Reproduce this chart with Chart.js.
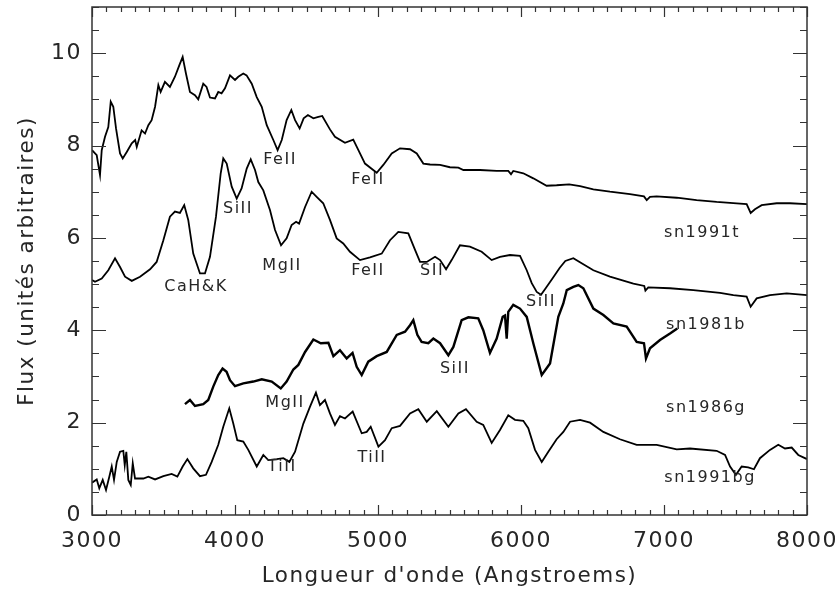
<!DOCTYPE html>
<html><head><meta charset="utf-8">
<script src="https://cdn.jsdelivr.net/npm/chart.js@4.4.0/dist/chart.umd.min.js"></script>
<style>html,body{margin:0;padding:0;background:#fff;overflow:hidden}</style>
</head><body>
<canvas id="c" width="839" height="590"></canvas>
<script>
// ---- data (wavelength in Angstrom, flux in arbitrary units) ----
const sn1991t = [[3000,7.90],[3033,7.79],[3056,7.36],[3068,7.90],[3091,8.19],[3114,8.40],[3131,8.95],[3149,8.84],[3168,8.37],[3196,7.83],[3215,7.72],[3243,7.86],[3278,8.05],[3302,8.12],[3313,7.97],[3347,8.33],[3371,8.26],[3394,8.44],[3417,8.55],[3441,8.84],[3464,9.31],[3480,9.16],[3510,9.38],[3545,9.27],[3580,9.49],[3611,9.74],[3634,9.92],[3657,9.56],[3685,9.16],[3720,9.09],[3743,9.00],[3778,9.34],[3801,9.27],[3825,9.04],[3860,9.02],[3883,9.16],[3906,9.13],[3930,9.24],[3965,9.52],[4000,9.42],[4023,9.49],[4058,9.56],[4081,9.52],[4117,9.34],[4152,9.05],[4187,8.84],[4222,8.44],[4268,8.12],[4298,7.90],[4327,8.12],[4361,8.55],[4394,8.77],[4420,8.55],[4452,8.37],[4480,8.59],[4510,8.66],[4548,8.59],[4583,8.62],[4610,8.64],[4664,8.35],[4699,8.19],[4769,8.06],[4827,8.13],[4874,7.83],[4909,7.61],[4991,7.41],[5037,7.58],[5096,7.83],[5154,7.94],[5224,7.92],[5271,7.83],[5317,7.61],[5364,7.59],[5434,7.58],[5503,7.53],[5562,7.52],[5597,7.47],[5713,7.47],[5830,7.45],[5911,7.45],[5930,7.38],[5946,7.45],[6016,7.40],[6086,7.29],[6179,7.13],[6249,7.14],[6337,7.16],[6413,7.12],[6506,7.05],[6622,7.00],[6762,6.95],[6860,6.90],[6879,6.82],[6902,6.89],[6948,6.90],[7089,6.87],[7228,6.82],[7368,6.78],[7508,6.75],[7578,6.73],[7606,6.54],[7636,6.62],[7683,6.71],[7788,6.75],[7881,6.75],[8000,6.73]];

const sn1981b = [[3000,5.09],[3021,5.05],[3068,5.12],[3114,5.30],[3161,5.56],[3196,5.37],[3231,5.16],[3278,5.07],[3336,5.16],[3406,5.32],[3452,5.48],[3499,5.95],[3545,6.46],[3580,6.57],[3615,6.54],[3645,6.71],[3673,6.39],[3708,5.66],[3755,5.23],[3790,5.23],[3825,5.59],[3867,6.46],[3900,7.40],[3918,7.72],[3942,7.61],[3977,7.11],[4012,6.85],[4046,7.07],[4082,7.50],[4110,7.70],[4140,7.47],[4163,7.21],[4198,7.03],[4245,6.60],[4280,6.17],[4322,5.84],[4361,5.99],[4396,6.28],[4427,6.35],[4448,6.31],[4490,6.67],[4536,7.00],[4571,6.89],[4617,6.75],[4664,6.39],[4711,5.99],[4757,5.88],[4804,5.70],[4874,5.52],[4944,5.58],[5026,5.66],[5084,5.95],[5142,6.13],[5212,6.10],[5259,5.74],[5294,5.48],[5341,5.48],[5399,5.59],[5434,5.52],[5476,5.32],[5515,5.52],[5573,5.84],[5643,5.81],[5725,5.70],[5795,5.52],[5853,5.59],[5923,5.63],[5993,5.61],[6040,5.30],[6075,5.02],[6110,4.83],[6140,4.77],[6175,4.92],[6220,5.12],[6270,5.35],[6310,5.50],[6366,5.56],[6430,5.44],[6506,5.30],[6622,5.16],[6786,5.01],[6862,4.96],[6870,4.86],[6890,4.93],[7042,4.91],[7205,4.87],[7392,4.81],[7485,4.76],[7578,4.73],[7606,4.51],[7648,4.69],[7741,4.76],[7858,4.80],[8000,4.76]];

const sn1986g = [[3650,2.40],[3685,2.49],[3720,2.36],[3778,2.40],[3813,2.49],[3848,2.78],[3883,3.03],[3913,3.17],[3941,3.10],[3965,2.92],[4000,2.79],[4058,2.85],[4128,2.89],[4187,2.94],[4257,2.89],[4320,2.74],[4361,2.89],[4408,3.15],[4443,3.25],[4490,3.53],[4548,3.80],[4600,3.72],[4653,3.73],[4688,3.44],[4734,3.57],[4781,3.39],[4822,3.51],[4851,3.21],[4886,3.03],[4932,3.32],[4991,3.44],[5061,3.53],[5131,3.90],[5189,3.97],[5224,4.11],[5247,4.22],[5275,3.90],[5305,3.75],[5352,3.72],[5387,3.82],[5434,3.72],[5492,3.46],[5527,3.64],[5585,4.22],[5632,4.28],[5701,4.26],[5736,4.00],[5783,3.51],[5830,3.82],[5872,4.29],[5888,4.32],[5900,3.82],[5911,4.40],[5946,4.55],[5993,4.47],[6040,4.29],[6086,3.72],[6145,3.03],[6203,3.28],[6261,4.29],[6296,4.58],[6320,4.87],[6366,4.94],[6401,4.98],[6436,4.91],[6506,4.47],[6576,4.33],[6646,4.15],[6739,4.08],[6809,3.75],[6860,3.72],[6874,3.39],[6902,3.61],[6972,3.79],[7042,3.93],[7093,4.04]];

const sn1991bg = [[3000,0.70],[3033,0.77],[3051,0.58],[3075,0.76],[3098,0.54],[3121,0.83],[3138,1.05],[3154,0.76],[3173,1.15],[3196,1.37],[3219,1.39],[3229,1.08],[3240,1.37],[3254,0.76],[3271,0.65],[3285,1.12],[3301,0.79],[3359,0.79],[3394,0.83],[3441,0.77],[3499,0.84],[3557,0.89],[3597,0.83],[3634,1.05],[3667,1.21],[3708,1.01],[3755,0.84],[3797,0.87],[3837,1.15],[3883,1.52],[3918,1.91],[3960,2.31],[3988,1.98],[4016,1.62],[4058,1.59],[4093,1.41],[4152,1.05],[4198,1.30],[4233,1.19],[4292,1.21],[4338,1.23],[4380,1.15],[4420,1.37],[4478,1.98],[4524,2.34],[4566,2.65],[4594,2.38],[4629,2.49],[4664,2.20],[4699,1.95],[4734,2.14],[4769,2.09],[4823,2.24],[4886,1.77],[4921,1.80],[4949,1.91],[5003,1.48],[5049,1.62],[5096,1.88],[5154,1.93],[5224,2.20],[5282,2.29],[5341,2.02],[5411,2.25],[5492,1.91],[5562,2.20],[5615,2.29],[5690,2.02],[5736,1.95],[5795,1.56],[5853,1.84],[5911,2.16],[5958,2.06],[6016,2.04],[6051,1.88],[6098,1.41],[6145,1.15],[6191,1.37],[6249,1.64],[6296,1.80],[6343,2.02],[6413,2.06],[6483,2.00],[6576,1.80],[6692,1.64],[6809,1.52],[6949,1.52],[7089,1.42],[7182,1.44],[7368,1.39],[7427,1.30],[7462,1.05],[7503,0.87],[7543,1.05],[7589,1.03],[7629,0.99],[7671,1.23],[7741,1.41],[7799,1.52],[7846,1.44],[7893,1.46],[7939,1.30],[8000,1.21]];

const xTickValues = [3000,4000,5000,6000,7000,8000];
const yTickValues = [0,2,4,6,8,10];
const xMinorStep = 100;
const yMinorStep = 0.5;

const lineLabels = [
  ['FeII',4315,7.68],['FeII',4930,7.25],['SiII',4021,6.62],['MgII',4329,5.39],
  ['FeII',4930,5.28],['SII',5378,5.28],['CaH&K',3727,4.94],['SiII',6140,4.61],
  ['SiII',5538,3.16],['MgII',4350,2.42],['TiII',4329,1.04],['TiII',4958,1.23]
];
const seriesLabels = [
  ['sn1991t',7266,6.10],['sn1981b',7294,4.11],['sn1986g',7294,2.32],['sn1991bg',7322,0.80]
];

const toXY = a => a.map(p => ({x:p[0], y:p[1]}));
const FONT = "'DejaVu Sans', sans-serif";
const TXT = '#262626';

const spacing = {
  id:'spacing',
  beforeLayout(c){ c.ctx.letterSpacing = '1.5px'; },
  beforeDraw(c){ c.ctx.letterSpacing = '1.5px'; }
};

const frameTicks = {
  id:'frameTicks',
  afterDatasetsDraw(chart){
    const {ctx, chartArea:a, scales:{x, y}} = chart;
    ctx.save();
    ctx.strokeStyle = '#333';
    ctx.lineWidth = 1.5;
    ctx.strokeRect(a.left, a.top, a.right - a.left, a.bottom - a.top);
    ctx.lineWidth = 1.2;
    ctx.beginPath();
    for (let v = x.min; v <= x.max + 1e-6; v += xMinorStep) {
      const px = Math.round(x.getPixelForValue(v)) + 0.5;
      const L = xTickValues.includes(Math.round(v)) ? 10 : 5;
      ctx.moveTo(px, a.bottom); ctx.lineTo(px, a.bottom - L);
      ctx.moveTo(px, a.top); ctx.lineTo(px, a.top + L);
    }
    for (let v = y.min; v <= y.max + 1e-6; v += yMinorStep) {
      const py = Math.round(y.getPixelForValue(v)) + 0.5;
      const L = yTickValues.includes(v) ? 14 : 7;
      ctx.moveTo(a.left, py); ctx.lineTo(a.left + L, py);
      ctx.moveTo(a.right, py); ctx.lineTo(a.right - L, py);
    }
    ctx.stroke();
    // annotation texts
    ctx.fillStyle = TXT;
    ctx.textAlign = 'center';
    ctx.textBaseline = 'middle';
    ctx.font = '16px ' + FONT;
    for (const [t, vx, vy] of lineLabels.concat(seriesLabels)) {
      ctx.fillText(t, x.getPixelForValue(vx), y.getPixelForValue(vy));
    }
    ctx.restore();
  }
};

new Chart(document.getElementById('c'), {
  type:'line',
  data:{
    datasets:[
      {label:'sn1991t', data:toXY(sn1991t), borderWidth:1.8},
      {label:'sn1981b', data:toXY(sn1981b), borderWidth:1.8},
      {label:'sn1986g', data:toXY(sn1986g), borderWidth:2.4},
      {label:'sn1991bg', data:toXY(sn1991bg), borderWidth:1.8}
    ].map(d => Object.assign(d, {borderColor:'#000', pointRadius:0, tension:0, fill:false}))
  },
  options:{
    responsive:false,
    devicePixelRatio:1,
    animation:false,
    layout:{padding:{left:0, top:7, right:32, bottom:0}},
    plugins:{legend:{display:false}, tooltip:{enabled:false}},
    scales:{
      x:{
        type:'linear', min:3000, max:8000, position:'bottom',
        afterBuildTicks: s => { s.ticks = xTickValues.map(v => ({value:v})); },
        afterFit: s => { s.height = 75; s.paddingLeft = 0; s.paddingRight = 0; },
        grid:{display:false, drawTicks:false, tickLength:0},
        border:{display:false},
        ticks:{font:{family:FONT, size:22}, color:TXT, padding:13, maxRotation:0, callback:v => String(v)},
        title:{display:true, text:"Longueur d'onde (Angstroems)", font:{family:FONT, size:21.5}, color:TXT, padding:{top:0, bottom:1}}
      },
      y:{
        type:'linear', min:0, max:11,
        afterBuildTicks: s => { s.ticks = yTickValues.map(v => ({value:v})); },
        afterFit: s => { s.width = 92; s.paddingTop = 0; s.paddingBottom = 0; },
        grid:{display:false, drawTicks:false, tickLength:0},
        border:{display:false},
        ticks:{font:{family:FONT, size:22}, color:TXT, padding:10, callback:v => String(v)},
        title:{display:true, text:'Flux (unités arbitraires)', font:{family:FONT, size:21.5}, color:TXT, padding:{top:15, bottom:0}}
      }
    }
  },
  plugins:[spacing, frameTicks]
});
</script>
</body></html>
